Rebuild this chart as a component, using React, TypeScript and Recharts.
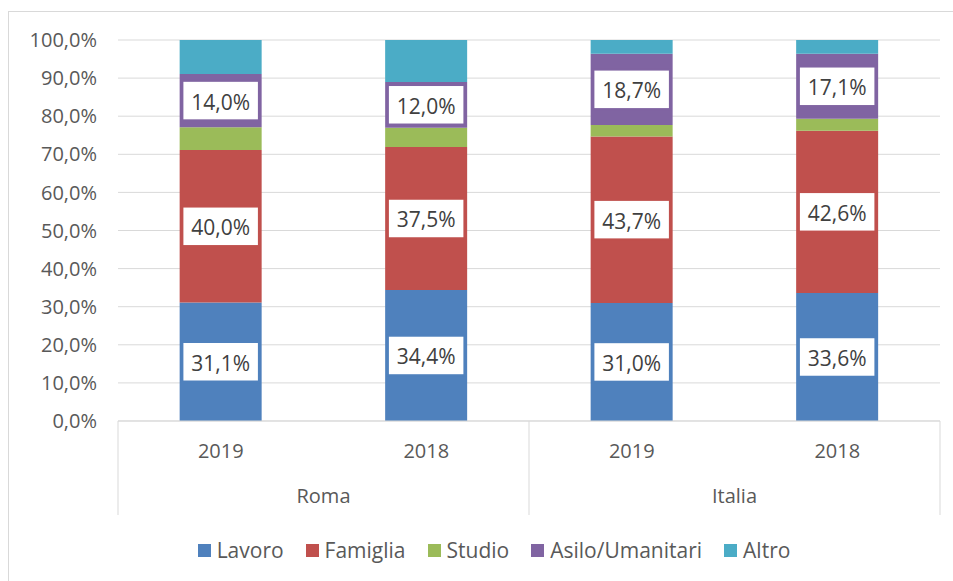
import React from "react";
import { Bar, BarChart, CartesianGrid, LabelList, Legend, XAxis, YAxis } from "recharts";

const years = ["2019", "2018", "2019", "2018"];
const places = ["Roma", "Roma", "Italia", "Italia"];

const lavoro = [31.1, 34.4, 31.0, 33.6];
const famiglia = [40.0, 37.5, 43.7, 42.6];
const studio = [6.0, 5.1, 3.0, 3.1];
const asilo = [14.0, 12.0, 18.7, 17.1];
const altro = [8.9, 11.0, 3.6, 3.6];

const yTicks = [0, 10, 20, 30, 40, 50, 60, 70, 80, 90, 100];

const series = [
  { key: "lavoro", name: "Lavoro", color: "#4F81BD", values: lavoro, label: true },
  { key: "famiglia", name: "Famiglia", color: "#C0504D", values: famiglia, label: true },
  { key: "studio", name: "Studio", color: "#9BBB59", values: studio, label: false },
  { key: "asilo", name: "Asilo/Umanitari", color: "#8064A2", values: asilo, label: true },
  { key: "altro", name: "Altro", color: "#4BACC6", values: altro, label: false },
];

const W = 953;
const H = 581;
const Y_W = 118;
const M_RIGHT = 13;
const FONT = "'Open Sans', 'Noto Sans', sans-serif";
const GRID = "#d9d9d9";

const data = years.map((y, i) => {
  const row: any = { key: places[i] + " " + y };
  series.forEach((s) => (row[s.key] = s.values[i]));
  return row;
});

const pct = (v: number) => v.toFixed(1).replace(".", ",") + "%";

const boxLabel = (color: string) => (props: any) => {
  const x = Number(props.x);
  const y = Number(props.y);
  const w = Number(props.width);
  const h = Number(props.height);
  const cx = x + w / 2;
  const cy = y + h / 2;
  return (
    <g>
      <rect x={x + 2.5} y={cy - 20} width={w - 5} height={40} fill="#fff" stroke={color} strokeWidth={2.5} />
      <text x={cx} y={cy + 1} textAnchor="middle" dominantBaseline="central" fill="#404040" fontSize={21} fontFamily={FONT}>
        {pct(Number(props.value))}
      </text>
    </g>
  );
};

function CategoryTick(props: any) {
  const { x, y, index } = props;
  const band = (W - Y_W - M_RIGHT) / years.length;
  const first = index === 0 || places[index] !== places[index - 1];
  const last = index === years.length - 1;
  return (
    <g>
      <text x={x} y={y + 29} textAnchor="middle" dominantBaseline="central" fill="#595959" fontSize={20} fontFamily={FONT}>
        {years[index]}
      </text>
      {first && (
        <>
          <line x1={x - band / 2} x2={x - band / 2} y1={y} y2={y + 94} stroke={GRID} />
          <text x={x + band / 2} y={y + 74} textAnchor="middle" dominantBaseline="central" fill="#595959" fontSize={20} fontFamily={FONT}>
            {places[index]}
          </text>
        </>
      )}
      {last && <line x1={x + band / 2} x2={x + band / 2} y1={y} y2={y + 94} stroke={GRID} />}
    </g>
  );
}

function LegendBox() {
  return (
    <div style={{ display: "flex", justifyContent: "center", paddingLeft: 70, fontFamily: FONT, fontSize: 21, color: "#595959" }}>
      {series.map((s) => (
        <div key={s.key} style={{ display: "flex", alignItems: "center", marginRight: 22 }}>
          <span style={{ width: 13, height: 13, background: s.color, display: "inline-block", marginRight: 6 }} />
          <span>{s.name}</span>
        </div>
      ))}
    </div>
  );
}

export default function App() {
  return (
    <div style={{ position: "absolute", left: 0, top: 0, width: W, height: H, background: "#fff", overflow: "hidden" }}>
      <div style={{ position: "absolute", left: 8, top: 11, width: W, height: H, border: `1px solid ${GRID}` }} />
      <div style={{ position: "absolute", left: 0, top: 0 }}>
        <BarChart width={W} height={H} data={data} margin={{ top: 40, right: M_RIGHT, left: 0, bottom: 15 }} barCategoryGap="30%">
          <CartesianGrid vertical={false} stroke={GRID} />
          <XAxis
            dataKey="key"
            height={115}
            axisLine={{ stroke: GRID }}
            tickLine={false}
            tickSize={0}
            tickMargin={0}
            interval={0}
            tick={<CategoryTick />}
          />
          <YAxis
            width={Y_W}
            domain={[0, 100]}
            ticks={yTicks}
            tickFormatter={pct}
            axisLine={false}
            tickLine={false}
            tickSize={0}
            tickMargin={21}
            tick={{ fill: "#595959", fontSize: 20, fontFamily: FONT }}
          />
          <Legend verticalAlign="bottom" height={30} content={<LegendBox />} />
          {series.map((s) => (
            <Bar key={s.key} dataKey={s.key} name={s.name} stackId="a" fill={s.color} isAnimationActive={false}>
              {s.label && <LabelList dataKey={s.key} content={boxLabel(s.color)} />}
            </Bar>
          ))}
        </BarChart>
      </div>
    </div>
  );
}
